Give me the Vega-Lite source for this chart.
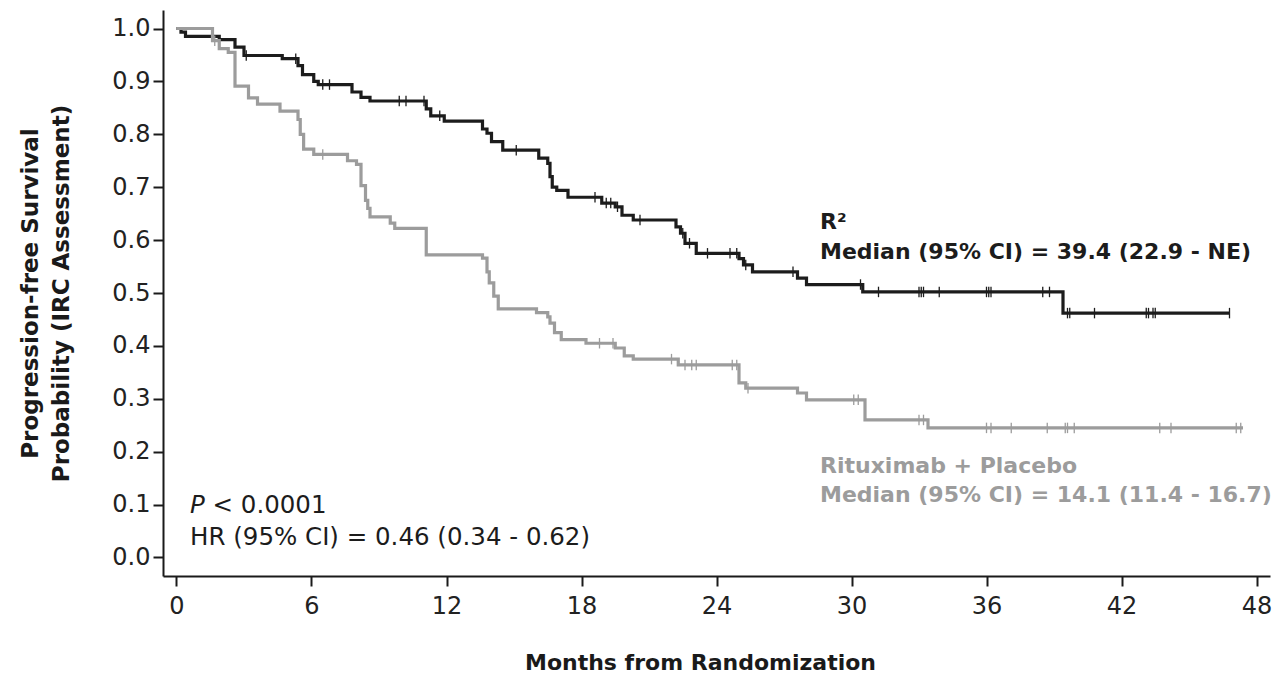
{
  "$schema": "https://vega.github.io/schema/vega-lite/v6.json",
  "width": 1107,
  "height": 566,
  "autosize": {"type": "none"},
  "padding": {"left": 163, "top": 10, "right": 16, "bottom": 97},
  "background": "white",
  "config": {
    "view": {"stroke": null},
    "font": "DejaVu Sans",
    "axis": {
      "grid": false,
      "domainColor": "#1a1a1a",
      "domainWidth": 2,
      "tickColor": "#1a1a1a",
      "tickWidth": 2,
      "tickSize": 10,
      "labelFont": "DejaVu Sans",
      "labelFontSize": 24,
      "labelColor": "#222222",
      "titleFont": "DejaVu Sans",
      "titleFontWeight": "bold",
      "titleColor": "#1a1a1a"
    }
  },
  "datasets": {
    "curves": [
      {"arm": "R2", "t": 0, "s": 1.0}, {"arm": "R2", "t": 0.2, "s": 0.993}, {"arm": "R2", "t": 0.4, "s": 0.985},
      {"arm": "R2", "t": 1.9, "s": 0.979}, {"arm": "R2", "t": 2.6, "s": 0.965}, {"arm": "R2", "t": 3.0, "s": 0.949},
      {"arm": "R2", "t": 4.7, "s": 0.943}, {"arm": "R2", "t": 5.4, "s": 0.93}, {"arm": "R2", "t": 5.6, "s": 0.913},
      {"arm": "R2", "t": 6.1, "s": 0.9}, {"arm": "R2", "t": 6.3, "s": 0.894}, {"arm": "R2", "t": 7.8, "s": 0.88},
      {"arm": "R2", "t": 8.2, "s": 0.87}, {"arm": "R2", "t": 8.6, "s": 0.863}, {"arm": "R2", "t": 11.1, "s": 0.848},
      {"arm": "R2", "t": 11.3, "s": 0.835}, {"arm": "R2", "t": 11.9, "s": 0.825}, {"arm": "R2", "t": 13.6, "s": 0.81},
      {"arm": "R2", "t": 13.8, "s": 0.802}, {"arm": "R2", "t": 14.0, "s": 0.786}, {"arm": "R2", "t": 14.5, "s": 0.77},
      {"arm": "R2", "t": 16.1, "s": 0.755}, {"arm": "R2", "t": 16.5, "s": 0.745}, {"arm": "R2", "t": 16.6, "s": 0.72},
      {"arm": "R2", "t": 16.7, "s": 0.7}, {"arm": "R2", "t": 16.9, "s": 0.694}, {"arm": "R2", "t": 17.4, "s": 0.681},
      {"arm": "R2", "t": 18.9, "s": 0.67}, {"arm": "R2", "t": 19.5, "s": 0.663}, {"arm": "R2", "t": 19.8, "s": 0.647},
      {"arm": "R2", "t": 20.3, "s": 0.638}, {"arm": "R2", "t": 22.2, "s": 0.625}, {"arm": "R2", "t": 22.4, "s": 0.613},
      {"arm": "R2", "t": 22.6, "s": 0.594}, {"arm": "R2", "t": 23.1, "s": 0.575}, {"arm": "R2", "t": 25.0, "s": 0.565},
      {"arm": "R2", "t": 25.2, "s": 0.553}, {"arm": "R2", "t": 25.6, "s": 0.54}, {"arm": "R2", "t": 27.6, "s": 0.528},
      {"arm": "R2", "t": 28.0, "s": 0.516}, {"arm": "R2", "t": 30.5, "s": 0.502}, {"arm": "R2", "t": 39.4, "s": 0.462},
      {"arm": "R2", "t": 46.8, "s": 0.462},
      {"arm": "RP", "t": 0, "s": 1.0}, {"arm": "RP", "t": 1.6, "s": 0.977}, {"arm": "RP", "t": 1.9, "s": 0.962},
      {"arm": "RP", "t": 2.3, "s": 0.955}, {"arm": "RP", "t": 2.6, "s": 0.891}, {"arm": "RP", "t": 3.2, "s": 0.869},
      {"arm": "RP", "t": 3.6, "s": 0.857}, {"arm": "RP", "t": 4.6, "s": 0.844}, {"arm": "RP", "t": 5.4, "s": 0.828},
      {"arm": "RP", "t": 5.5, "s": 0.8}, {"arm": "RP", "t": 5.65, "s": 0.772}, {"arm": "RP", "t": 6.1, "s": 0.762},
      {"arm": "RP", "t": 7.6, "s": 0.75}, {"arm": "RP", "t": 8.0, "s": 0.743}, {"arm": "RP", "t": 8.2, "s": 0.703},
      {"arm": "RP", "t": 8.4, "s": 0.675}, {"arm": "RP", "t": 8.5, "s": 0.66}, {"arm": "RP", "t": 8.6, "s": 0.644},
      {"arm": "RP", "t": 9.5, "s": 0.632}, {"arm": "RP", "t": 9.7, "s": 0.622}, {"arm": "RP", "t": 11.1, "s": 0.572},
      {"arm": "RP", "t": 13.6, "s": 0.566}, {"arm": "RP", "t": 13.8, "s": 0.54}, {"arm": "RP", "t": 13.9, "s": 0.519},
      {"arm": "RP", "t": 14.1, "s": 0.494}, {"arm": "RP", "t": 14.3, "s": 0.47}, {"arm": "RP", "t": 16.0, "s": 0.463},
      {"arm": "RP", "t": 16.5, "s": 0.455}, {"arm": "RP", "t": 16.6, "s": 0.443}, {"arm": "RP", "t": 16.8, "s": 0.425},
      {"arm": "RP", "t": 17.1, "s": 0.412}, {"arm": "RP", "t": 18.2, "s": 0.405}, {"arm": "RP", "t": 19.5, "s": 0.396},
      {"arm": "RP", "t": 19.9, "s": 0.381}, {"arm": "RP", "t": 20.3, "s": 0.375}, {"arm": "RP", "t": 22.3, "s": 0.364},
      {"arm": "RP", "t": 25.0, "s": 0.33}, {"arm": "RP", "t": 25.3, "s": 0.32}, {"arm": "RP", "t": 27.6, "s": 0.311},
      {"arm": "RP", "t": 28.0, "s": 0.298}, {"arm": "RP", "t": 30.6, "s": 0.26}, {"arm": "RP", "t": 33.4, "s": 0.245},
      {"arm": "RP", "t": 47.4, "s": 0.245}
    ],
    "censors": [
      {"arm": "R2", "t": 3.1, "s": 0.949}, {"arm": "R2", "t": 5.3, "s": 0.943}, {"arm": "R2", "t": 6.5, "s": 0.894},
      {"arm": "R2", "t": 6.8, "s": 0.894}, {"arm": "R2", "t": 9.9, "s": 0.863}, {"arm": "R2", "t": 10.2, "s": 0.863},
      {"arm": "R2", "t": 11.0, "s": 0.863}, {"arm": "R2", "t": 11.7, "s": 0.835}, {"arm": "R2", "t": 15.1, "s": 0.77},
      {"arm": "R2", "t": 18.6, "s": 0.681}, {"arm": "R2", "t": 19.1, "s": 0.67}, {"arm": "R2", "t": 19.3, "s": 0.67},
      {"arm": "R2", "t": 19.6, "s": 0.663}, {"arm": "R2", "t": 20.6, "s": 0.638}, {"arm": "R2", "t": 22.5, "s": 0.613},
      {"arm": "R2", "t": 22.8, "s": 0.594}, {"arm": "R2", "t": 23.6, "s": 0.575}, {"arm": "R2", "t": 24.6, "s": 0.575},
      {"arm": "R2", "t": 24.9, "s": 0.575}, {"arm": "R2", "t": 25.3, "s": 0.553}, {"arm": "R2", "t": 27.4, "s": 0.54},
      {"arm": "R2", "t": 30.4, "s": 0.516}, {"arm": "R2", "t": 31.2, "s": 0.502}, {"arm": "R2", "t": 33.0, "s": 0.502},
      {"arm": "R2", "t": 33.1, "s": 0.502}, {"arm": "R2", "t": 33.2, "s": 0.502}, {"arm": "R2", "t": 33.9, "s": 0.502},
      {"arm": "R2", "t": 36.0, "s": 0.502}, {"arm": "R2", "t": 36.1, "s": 0.502}, {"arm": "R2", "t": 36.2, "s": 0.502},
      {"arm": "R2", "t": 38.5, "s": 0.502}, {"arm": "R2", "t": 38.8, "s": 0.502}, {"arm": "R2", "t": 39.6, "s": 0.462},
      {"arm": "R2", "t": 39.7, "s": 0.462}, {"arm": "R2", "t": 40.8, "s": 0.462}, {"arm": "R2", "t": 43.1, "s": 0.462},
      {"arm": "R2", "t": 43.2, "s": 0.462}, {"arm": "R2", "t": 43.4, "s": 0.462}, {"arm": "R2", "t": 43.5, "s": 0.462},
      {"arm": "R2", "t": 46.8, "s": 0.462},
      {"arm": "RP", "t": 1.7, "s": 0.977}, {"arm": "RP", "t": 6.5, "s": 0.762}, {"arm": "RP", "t": 18.8, "s": 0.405},
      {"arm": "RP", "t": 19.4, "s": 0.405}, {"arm": "RP", "t": 22.0, "s": 0.375}, {"arm": "RP", "t": 22.6, "s": 0.364},
      {"arm": "RP", "t": 22.9, "s": 0.364}, {"arm": "RP", "t": 23.1, "s": 0.364}, {"arm": "RP", "t": 24.7, "s": 0.364},
      {"arm": "RP", "t": 24.9, "s": 0.364}, {"arm": "RP", "t": 25.4, "s": 0.32}, {"arm": "RP", "t": 30.1, "s": 0.298},
      {"arm": "RP", "t": 30.3, "s": 0.298}, {"arm": "RP", "t": 33.0, "s": 0.26}, {"arm": "RP", "t": 33.2, "s": 0.26},
      {"arm": "RP", "t": 36.0, "s": 0.245}, {"arm": "RP", "t": 36.2, "s": 0.245}, {"arm": "RP", "t": 37.1, "s": 0.245},
      {"arm": "RP", "t": 38.7, "s": 0.245}, {"arm": "RP", "t": 39.5, "s": 0.245}, {"arm": "RP", "t": 39.6, "s": 0.245},
      {"arm": "RP", "t": 39.9, "s": 0.245}, {"arm": "RP", "t": 43.7, "s": 0.245}, {"arm": "RP", "t": 44.2, "s": 0.245},
      {"arm": "RP", "t": 47.1, "s": 0.245}, {"arm": "RP", "t": 47.3, "s": 0.245}
    ],
    "armLabels": [
      {"arm": "R2", "x": 28.6, "y": 0.634, "label": "R²"},
      {"arm": "R2", "x": 28.6, "y": 0.578, "label": "Median (95% CI) = 39.4 (22.9 - NE)"},
      {"arm": "RP", "x": 28.6, "y": 0.173, "label": "Rituximab + Placebo"},
      {"arm": "RP", "x": 28.6, "y": 0.118, "label": "Median (95% CI) = 14.1 (11.4 - 16.7)"}
    ],
    "statLabels": [
      {"x": 1.6, "y": 0.097, "label": "< 0.0001"},
      {"x": 0.6, "y": 0.037, "label": "HR (95% CI) = 0.46 (0.34 - 0.62)"}
    ],
    "italicLabels": [
      {"x": 0.6, "y": 0.097, "label": "P"}
    ]
  },
  "layer": [
    {
      "data": {"name": "curves"},
      "mark": {"type": "line", "interpolate": "step-after", "strokeWidth": 3.2},
      "encoding": {
        "x": {
          "field": "t", "type": "quantitative",
          "scale": {"domain": [-0.6, 48.6], "nice": false, "zero": false},
          "axis": {
            "title": "Months from Randomization",
            "values": [0, 6, 12, 18, 24, 30, 36, 42, 48],
            "titleFontSize": 22,
            "titlePadding": 34,
            "titleX": 537,
            "labelPadding": 8
          }
        },
        "y": {
          "field": "s", "type": "quantitative",
          "scale": {"domain": [-0.035, 1.035], "nice": false, "zero": false},
          "axis": {
            "title": ["Progression-free Survival", "Probability (IRC Assessment)"],
            "values": [0, 0.1, 0.2, 0.3, 0.4, 0.5, 0.6, 0.7, 0.8, 0.9, 1.0],
            "format": ".1f",
            "titleFontSize": 23,
            "titleLineHeight": 31,
            "titlePadding": 38,
            "labelPadding": 3
          }
        },
        "color": {
          "field": "arm", "type": "nominal",
          "scale": {"domain": ["R2", "RP"], "range": ["#1c1c1c", "#9c9c9c"]},
          "legend": null
        },
        "detail": {"field": "arm"}
      }
    },
    {
      "data": {"name": "censors"},
      "mark": {"type": "point", "shape": "M0,-1L0,1", "filled": false, "strokeWidth": 1.3, "size": 110, "opacity": 1},
      "encoding": {
        "x": {"field": "t", "type": "quantitative"},
        "y": {"field": "s", "type": "quantitative"},
        "color": {"field": "arm", "type": "nominal", "legend": null}
      }
    },
    {
      "data": {"name": "armLabels"},
      "mark": {"type": "text", "align": "left", "baseline": "middle", "font": "DejaVu Sans", "fontWeight": "bold", "fontSize": 22},
      "encoding": {
        "x": {"field": "x", "type": "quantitative"},
        "y": {"field": "y", "type": "quantitative"},
        "text": {"field": "label"},
        "color": {"field": "arm", "type": "nominal", "legend": null}
      }
    },
    {
      "data": {"name": "statLabels"},
      "mark": {"type": "text", "align": "left", "baseline": "middle", "font": "DejaVu Sans", "fontSize": 24.5, "color": "#1c1c1c"},
      "encoding": {
        "x": {"field": "x", "type": "quantitative"},
        "y": {"field": "y", "type": "quantitative"},
        "text": {"field": "label"}
      }
    },
    {
      "data": {"name": "italicLabels"},
      "mark": {"type": "text", "align": "left", "baseline": "middle", "font": "DejaVu Sans", "fontStyle": "italic", "fontSize": 24.5, "color": "#1c1c1c"},
      "encoding": {
        "x": {"field": "x", "type": "quantitative"},
        "y": {"field": "y", "type": "quantitative"},
        "text": {"field": "label"}
      }
    }
  ]
}
